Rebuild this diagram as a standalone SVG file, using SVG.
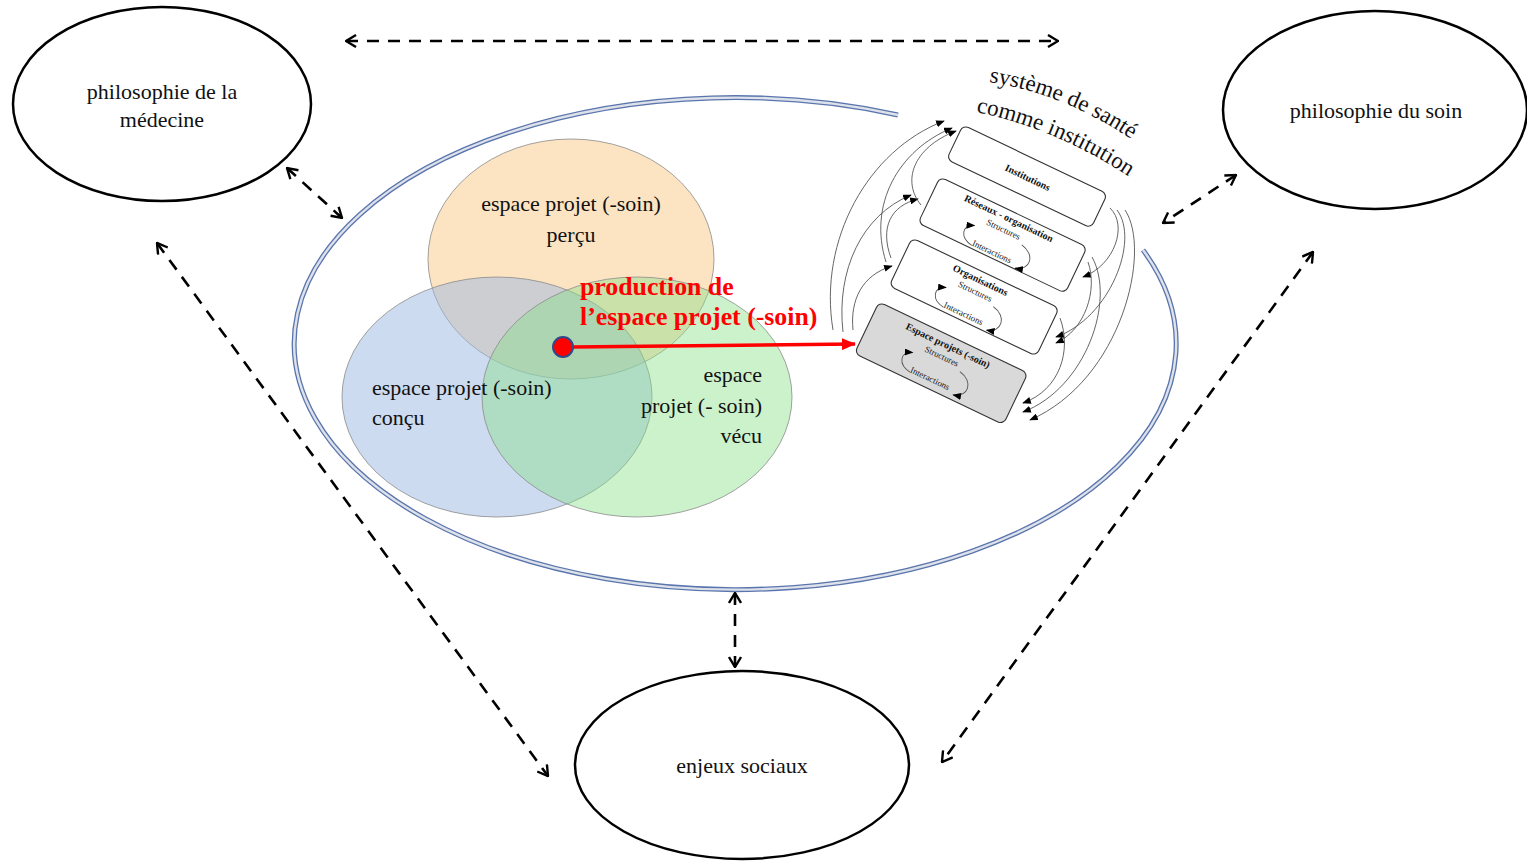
<svg xmlns="http://www.w3.org/2000/svg" width="1527" height="861" viewBox="0 0 1527 861">
<defs>
<style>
.node{fill:#fff;stroke:#000;stroke-width:2.5}
.lbl{font-family:"Liberation Serif","Times New Roman",serif;font-size:22px;fill:#111}
.dash{fill:none;stroke:#000;stroke-width:2.6;stroke-dasharray:12 9;marker-start:url(#oa);marker-end:url(#oa)}
.venn{stroke:#8a8a8a;stroke-width:0.8}
.box{fill:#fff;stroke:#333;stroke-width:1.1}
.bt{font-family:"Liberation Serif","Times New Roman",serif;font-size:10px;font-weight:bold;fill:#111;text-anchor:middle}
.st{font-family:"Liberation Serif","Times New Roman",serif;font-size:9px;fill:#222;text-anchor:middle}
.arc{fill:none;stroke:#555;stroke-width:0.9;marker-end:url(#fa)}
.title{font-family:"Liberation Serif","Times New Roman",serif;font-size:23px;fill:#111}
</style>
<marker id="oa" viewBox="0 0 12 14" refX="11" refY="7" markerWidth="12" markerHeight="14" markerUnits="userSpaceOnUse" orient="auto-start-reverse">
<path d="M1,1 L11,7 L1,13" fill="none" stroke="#000" stroke-width="2.4" stroke-dasharray="none"/>
</marker>
<marker id="fa" viewBox="0 0 10 8" refX="9" refY="4" markerWidth="9" markerHeight="7" markerUnits="userSpaceOnUse" orient="auto">
<path d="M0,0 L10,4 L0,8 Z" fill="#000"/>
</marker>
<marker id="ra" viewBox="0 0 14 12" refX="13" refY="6" markerWidth="14" markerHeight="12" markerUnits="userSpaceOnUse" orient="auto">
<path d="M0,0 L14,6 L0,12 Z" fill="#f00"/>
</marker>
</defs>

<!-- big double ellipse (open at upper right) -->
<g id="big-ellipse">
<path d="M898 115 A441 246 0 1 0 1143 250" fill="none" stroke="#5a74ad" stroke-width="5"/>
<path d="M898 115 A441 246 0 1 0 1143 250" fill="none" stroke="#dde2ea" stroke-width="2.4"/>
</g>

<!-- Venn diagram -->
<g id="venn-percu">
<ellipse class="venn" cx="571" cy="259" rx="143" ry="120" fill="#f8c47a" fill-opacity="0.45"/>
</g>
<g id="venn-concu">
<ellipse class="venn" cx="497" cy="397" rx="155" ry="120" fill="#9cb8e2" fill-opacity="0.5"/>
</g>
<g id="venn-vecu">
<ellipse class="venn" cx="637" cy="397" rx="155" ry="120" fill="#86e086" fill-opacity="0.42"/>
</g>
<g id="venn-labels">
<text class="lbl" x="571" y="211" text-anchor="middle">espace projet (-soin)</text>
<text class="lbl" x="571" y="242" text-anchor="middle">perçu</text>
<text class="lbl" x="372" y="395">espace projet (-soin)</text>
<text class="lbl" x="372" y="425">conçu</text>
<text class="lbl" x="762" y="382" text-anchor="end">espace</text>
<text class="lbl" x="762" y="413" text-anchor="end">projet (- soin)</text>
<text class="lbl" x="762" y="443" text-anchor="end">vécu</text>
</g>

<!-- production -->
<g id="production">
<text x="580" y="295" font-family="'Liberation Serif','Times New Roman',serif" font-size="25.8" font-weight="bold" fill="#f00">production de</text>
<text x="580" y="325" font-family="'Liberation Serif','Times New Roman',serif" font-size="25.8" font-weight="bold" fill="#f00">l’espace projet (-soin)</text>
<line x1="573" y1="347" x2="855" y2="344" stroke="#f00" stroke-width="3.5" marker-end="url(#ra)"/>
<circle cx="563" cy="347" r="10" fill="#f00" stroke="#2f4a8a" stroke-width="2"/>
</g>

<!-- outer nodes -->
<g id="node-medecine">
<ellipse class="node" cx="162" cy="104" rx="149" ry="97"/>
<text class="lbl" x="162" y="99" text-anchor="middle">philosophie de la</text>
<text class="lbl" x="162" y="127" text-anchor="middle">médecine</text>
</g>
<g id="node-soin">
<ellipse class="node" cx="1375" cy="110" rx="152" ry="99"/>
<text class="lbl" x="1376" y="118" text-anchor="middle">philosophie du soin</text>
</g>
<g id="node-enjeux">
<ellipse class="node" cx="742" cy="765" rx="167" ry="94"/>
<text class="lbl" x="742" y="773" text-anchor="middle">enjeux sociaux</text>
</g>

<!-- institution stack -->
<g id="stack-arcs">
<path class="arc" d="M833 330 C818 240 868 150 944 121"/>
<path class="arc" d="M843 332 C836 270 862 215 911 195"/>
<path class="arc" d="M853 330 C850 300 862 275 892 266"/>
<path class="arc" d="M886 262 C868 205 898 150 952 128"/>
<path class="arc" d="M891 258 C880 228 890 206 918 199"/>
<path class="arc" d="M921 205 C902 182 912 148 956 131"/>
<path class="arc" d="M1110 208 C1128 225 1115 265 1083 277"/>
<path class="arc" d="M1117 210 C1140 240 1110 318 1056 337"/>
<path class="arc" d="M1125 210 C1152 250 1122 380 1030 420"/>
<path class="arc" d="M1088 262 C1098 290 1085 330 1056 343"/>
<path class="arc" d="M1092 257 C1116 300 1086 388 1023 412"/>
<path class="arc" d="M1060 318 C1072 350 1060 390 1023 403"/>
</g>

<g id="box-institutions" transform="translate(963 125) rotate(25.5)">
<rect class="box" x="0" y="0" width="160" height="38" rx="6"/>
<text class="bt" x="81" y="23">Institutions</text>
</g>
<g id="box-reseaux" transform="translate(940 177) rotate(25.5)">
<rect class="box" x="0" y="0" width="163" height="51" rx="6"/>
<text class="bt" x="80" y="11">Réseaux - organisation</text>
<text class="st" x="80" y="23">Structures</text>
<text class="st" x="79" y="48">Interactions</text>
<path class="arc" d="M58 48 C44 46 40 34 52 29"/>
<path class="arc" d="M103 26 C120 29 122 46 107 50"/>
</g>
<g id="box-organisations" transform="translate(912 238) rotate(25.5)">
<rect class="box" x="0" y="0" width="163" height="53" rx="6"/>
<text class="bt" x="80" y="12">Organisations</text>
<text class="st" x="80" y="24">Structures</text>
<text class="st" x="79" y="49">Interactions</text>
<path class="arc" d="M58 49 C44 47 40 35 52 30"/>
<path class="arc" d="M103 27 C120 30 122 47 107 51"/>
</g>
<g id="box-espace" transform="translate(879 302) rotate(25.5)">
<rect class="box" x="0" y="0" width="165" height="57" rx="6" style="fill:#d9d9d9"/>
<text class="bt" x="81" y="13">Espace projets (-soin)</text>
<text class="st" x="80" y="25">Structures</text>
<text class="st" x="79" y="50">Interactions</text>
<path class="arc" d="M58 50 C44 48 40 36 52 31"/>
<path class="arc" d="M103 28 C120 31 122 48 107 52"/>
</g>

<g id="stack-title">
<path id="tp1" d="M989 82 Q1062 93 1131 139" fill="none"/>
<path id="tp2" d="M976 112 Q1055 128 1128 176" fill="none"/>
<text class="title"><textPath href="#tp1">système de santé</textPath></text>
<text class="title"><textPath href="#tp2">comme institution</textPath></text>
</g>

<!-- connectors -->
<g id="connectors">
<line class="dash" x1="346" y1="41" x2="1058" y2="41"/>
<line class="dash" x1="287" y1="168" x2="342" y2="218"/>
<line class="dash" x1="157" y1="243" x2="548" y2="776"/>
<line class="dash" x1="1236" y1="175" x2="1163" y2="223"/>
<line class="dash" x1="1313" y1="252" x2="942" y2="762"/>
<line class="dash" x1="735" y1="593" x2="735" y2="667"/>
</g>
</svg>
